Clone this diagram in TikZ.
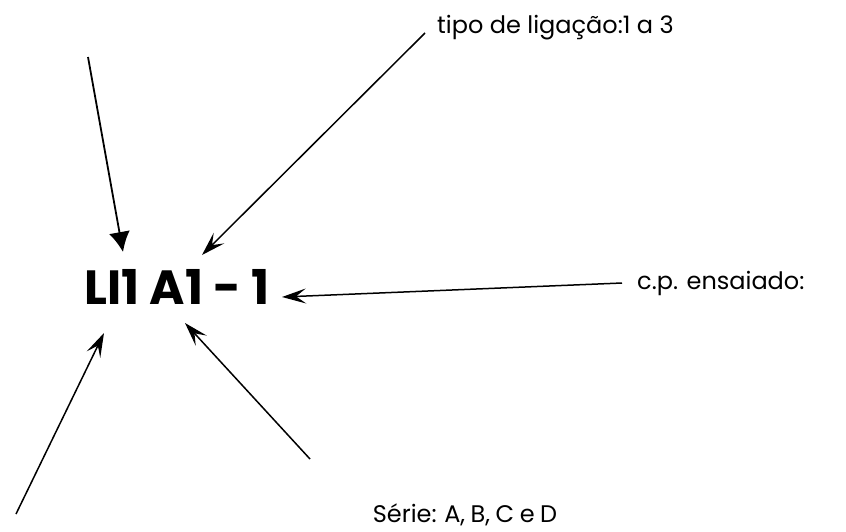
\documentclass[tikz,border=0pt]{standalone}
\usepackage{fontspec}
\setmainfont{Poppins}
\usetikzlibrary{arrows.meta}
\begin{document}
\begin{tikzpicture}[x=1pt,y=-1pt,
  lbl/.style={inner sep=0pt, font=\fontsize{24}{28}\selectfont},
  mainlbl/.style={inner sep=0pt, font=\fontsize{48}{56}\selectfont\bfseries},
  bigarrow/.style={line width=1.8pt, -{Latex[length=20pt,width=21pt]}},
  thinarrow/.style={line width=1.5pt, -{Stealth[length=24pt,width=15pt,inset=10pt]}}]
\useasboundingbox (0,0) rectangle (846,531);
\node[mainlbl] (main) at (177,287) {LI1 A1 - 1};
\node[lbl, anchor=west] (tipo) at (437,28) {tipo de ligação:1 a 3};
\node[lbl, anchor=west] (cp) at (637,283) {c.p. ensaiado:};
\node[lbl] (serie) at (465,515) {\spaceskip=0.23em\relax Série: A, B, C e D};
\coordinate (s1) at (88,57);
\coordinate (t1) at ([shift={(-54,-35)}]main.center);
\coordinate (s2) at ([shift={(-12,5)}]tipo.west);
\coordinate (t2) at ([shift={(25,-32)}]main.center);
\coordinate (s3) at ([shift={(-15,0)}]cp.west);
\coordinate (t3) at ([shift={(105,10)}]main.center);
\coordinate (s4) at (16,514);
\coordinate (t4) at ([shift={(-73,46)}]main.center);
\coordinate (s5) at (310,459);
\coordinate (t5) at ([shift={(8,36)}]main.center);
\draw[bigarrow] (s1) -- (t1);
\draw[thinarrow] (s2) -- (t2);
\draw[thinarrow] (s3) -- (t3);
\draw[thinarrow] (s4) -- (t4);
\draw[thinarrow] (s5) -- (t5);
\end{tikzpicture}
\end{document}
